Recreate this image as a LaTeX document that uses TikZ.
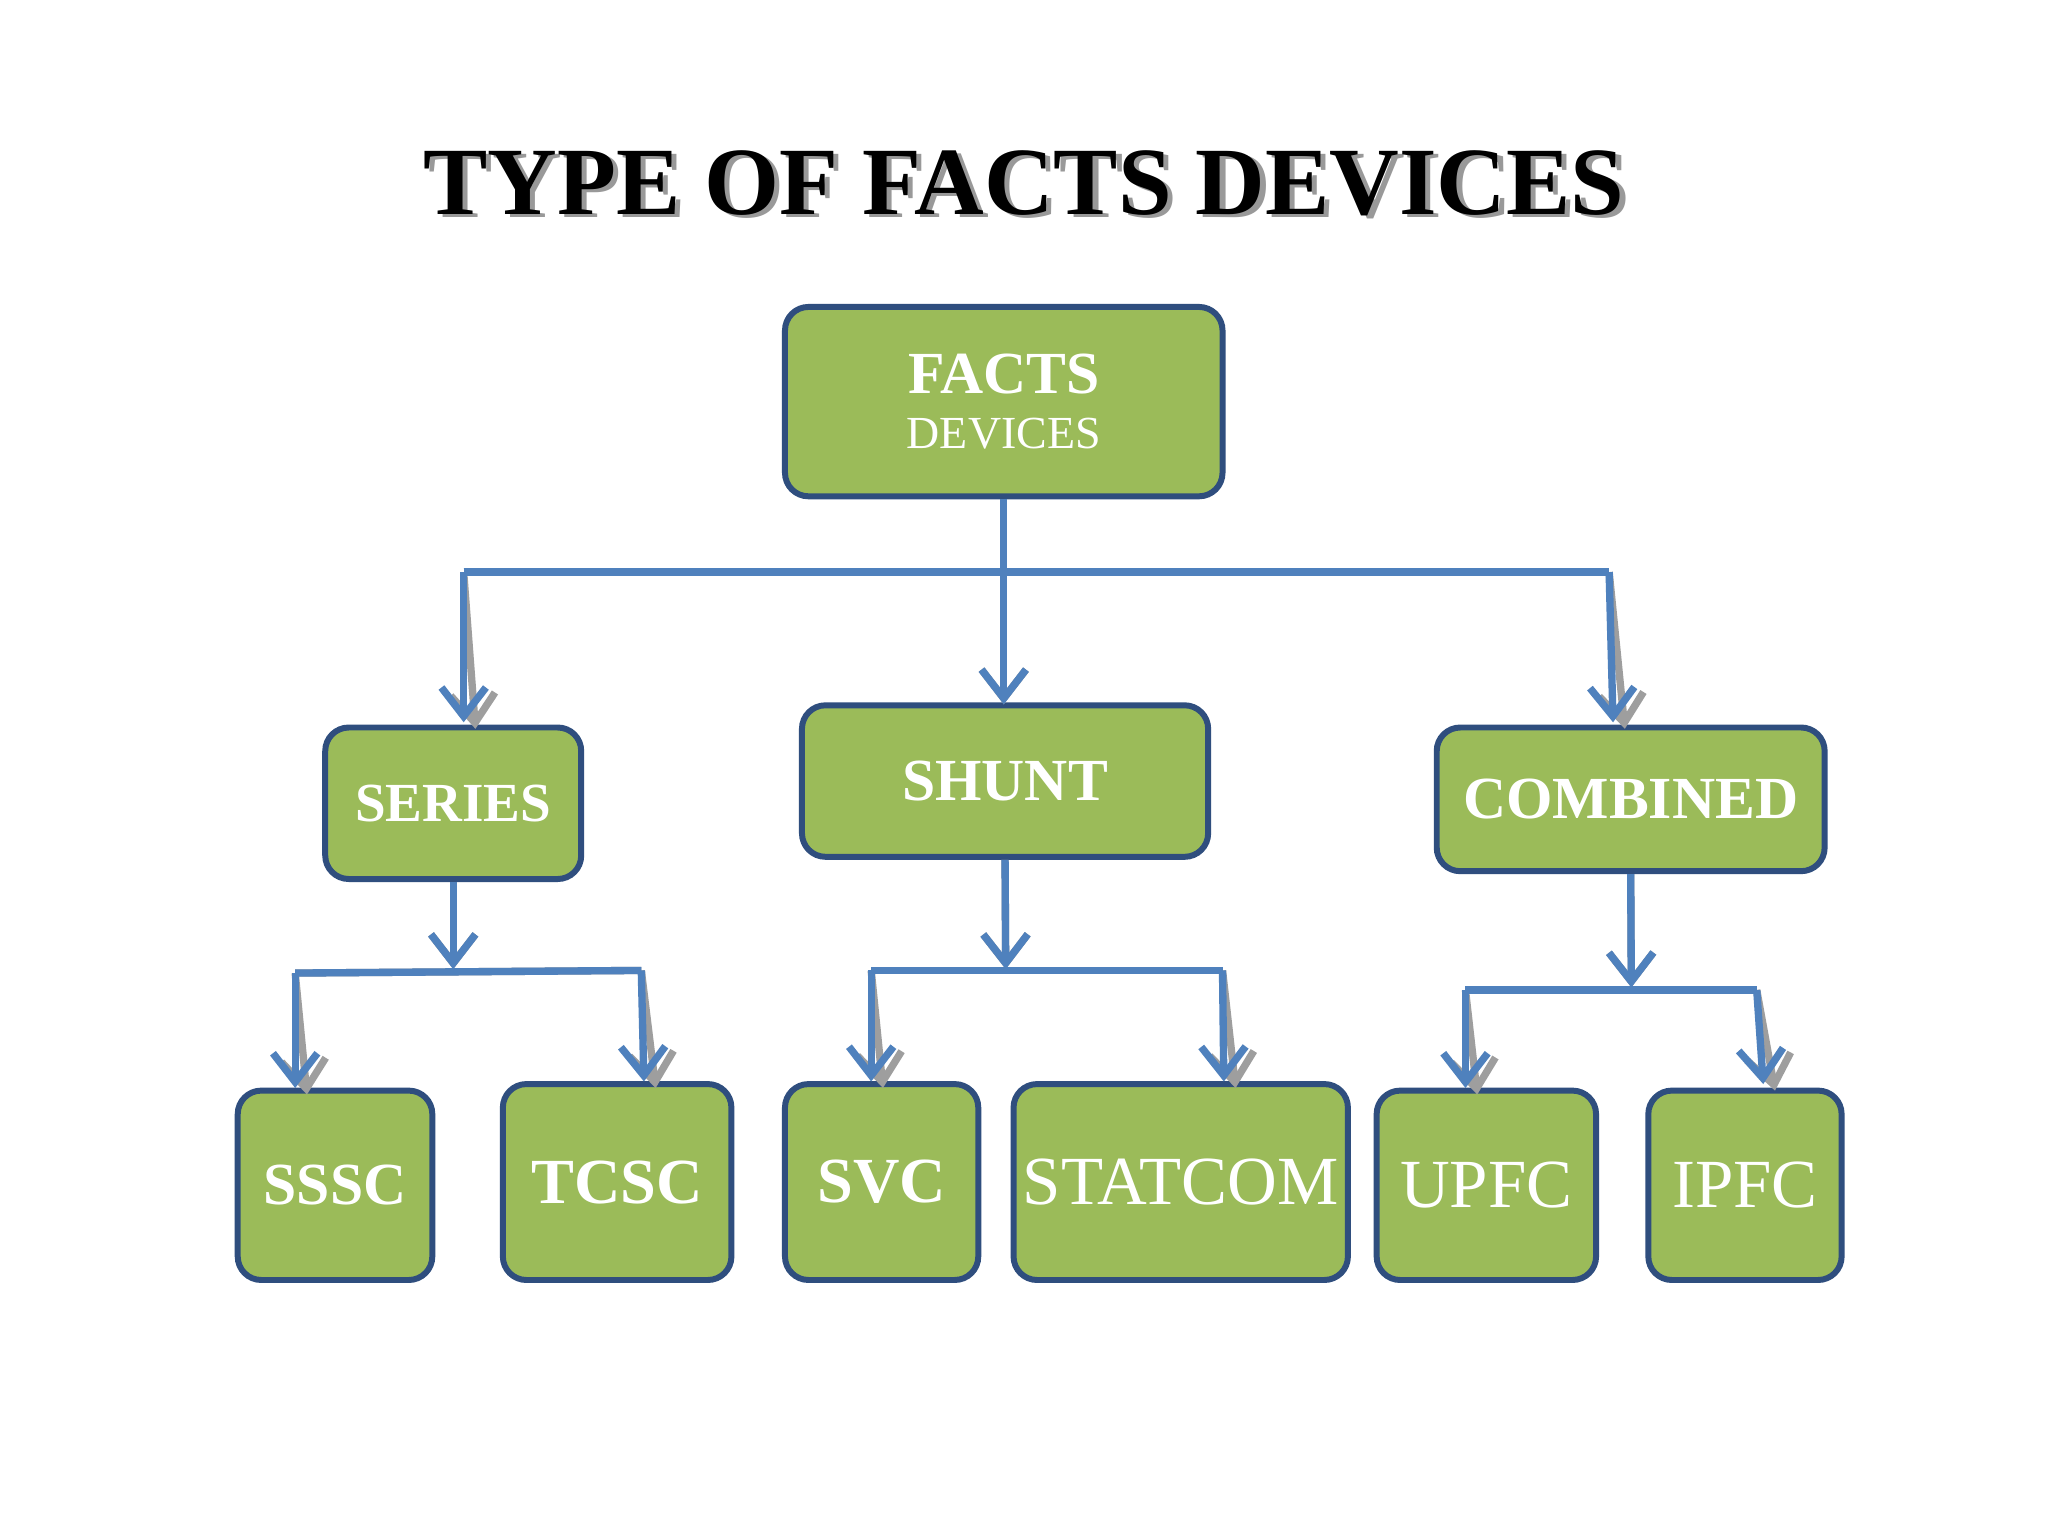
\documentclass[tikz,border=0pt]{standalone}
\usepackage{fontspec}
\setmainfont{Liberation Serif}
\usetikzlibrary{arrows.meta}
\definecolor{boxg}{HTML}{9BBB59}
\definecolor{boxb}{HTML}{2F4E7E}
\definecolor{lineb}{HTML}{4F81BD}
\begin{document}
\begin{tikzpicture}[x=0.01cm,y=-0.01cm,
  box/.style={draw=boxb,fill=boxg,line width=1.3pt,rounded corners=0.18cm,text=white,inner sep=0pt,align=center},
  cn/.style={line width=1.6pt,draw=lineb},
  sh/.style={line width=1.6pt,draw=black!38},
  tipc/.style={-{Straight Barb[length=0.22cm,width=0.34cm,line width=1.6pt]}}]
\path[fill=white] (0,0) rectangle (1568,1176);
\useasboundingbox (0,0) rectangle (1568,1176);
\node[text=black!40] at (788,143) {\fontsize{21}{25}\selectfont\bfseries TYPE OF FACTS DEVICES};
\node (title) at (784,140) {\fontsize{21}{25}\selectfont\bfseries TYPE OF FACTS DEVICES};
% boxes
\newcommand\bx[6]{\node[box,minimum width=#3*0.01cm,minimum height=#4*0.01cm] (#5) at (#1,#2) {#6};}
\bx{768.5}{307.5}{335}{145}{facts}{\fontsize{13}{20}\selectfont\bfseries FACTS\\ DEVICES}
\bx{347}{615}{196}{116}{series}{\fontsize{12}{14}\selectfont\bfseries SERIES}
\bx{769.5}{598}{311}{116}{shunt}{\fontsize{13}{15}\selectfont\bfseries SHUNT}
\bx{1248.5}{612}{297}{110}{comb}{\fontsize{13}{15}\selectfont\bfseries COMBINED}
\bx{256.5}{907.5}{149}{145}{sssc}{\fontsize{13}{15}\selectfont\bfseries SSSC}
\bx{472.5}{905}{175}{150}{tcsc}{\fontsize{14}{16}\selectfont\bfseries TCSC}
\bx{675}{905}{148}{150}{svc}{\fontsize{14}{16}\selectfont\bfseries SVC}
\bx{904}{905}{256}{150}{stat}{\fontsize{15}{17}\selectfont STATCOM}
\bx{1138}{907.5}{168}{145}{upfc}{\fontsize{15}{17}\selectfont UPFC}
\bx{1336}{907.5}{148}{145}{ipfc}{\fontsize{15}{17}\selectfont IPFC}
% junctions
\coordinate (a1) at (355,438); \coordinate (a2) at (1232,438);
\coordinate (s0) at (347,742); \coordinate (s1) at (226,745); \coordinate (s2) at (491,743);
\coordinate (h0) at (770,742); \coordinate (h1) at (667,743); \coordinate (h2) at (936,743);
\coordinate (c0) at (1249,756); \coordinate (c1) at (1122,758); \coordinate (c2) at (1345,758);
\newcommand\conns[1]{%
 \draw[#1,tipc] (facts.south) -- ++(0,157);
 \draw[#1] (a1) -- (a2);
 \draw[#1,tipc] (a1) -- (355,553);
 \draw[#1,tipc] (a2) -- (1235,553);
 \draw[#1,tipc] (series.south) -- (s0);
 \draw[#1] (s1) -- (s2);
 \draw[#1,tipc] (s1) -- (226,833);
 \draw[#1,tipc] (s2) -- (493,828);
 \draw[#1,tipc] (shunt.south) -- (h0);
 \draw[#1] (h1) -- (h2);
 \draw[#1,tipc] (h1) -- (667,828);
 \draw[#1,tipc] (h2) -- (937,828);
 \draw[#1,tipc] (comb.south) -- (c0);
 \draw[#1] (c1) -- (c2);
 \draw[#1,tipc] (c1) -- (1122,833);
 \draw[#1,tipc] (c2) -- (1350,830);}
\begin{scope}[shift={(9,5)}]\conns{sh}\end{scope}
\conns{cn}
\end{tikzpicture}
\end{document}
